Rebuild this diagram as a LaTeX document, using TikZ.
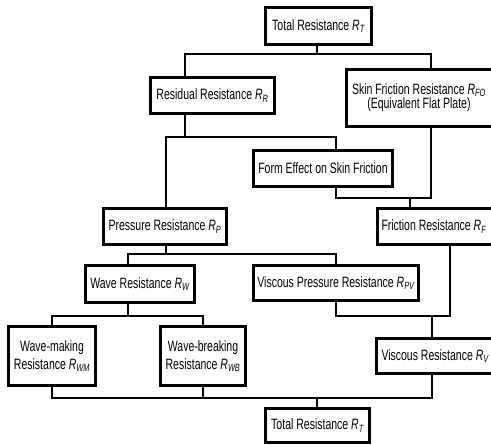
\documentclass[tikz,border=0pt]{standalone}
\usepackage{fontspec}
\setmainfont{Liberation Sans}[FakeStretch=0.7]
\newcommand{\Rsub}[1]{{\itshape R}\textsubscript{\itshape #1}}
\begin{document}
\begin{tikzpicture}[x=1pt,y=-1pt,
  box/.style={draw=black,line width=3pt,fill=white,rectangle,inner xsep=3pt,inner ysep=2pt,
    font=\fontsize{15}{18}\selectfont,align=center},
  edgebox/.style={box,anchor=west,align=flush left,inner xsep=#1},
  conn/.style={draw=black,line width=2pt,line cap=rect}]
\useasboundingbox (0,0) rectangle (491,445);
\fill[white] (0,0) rectangle (491,445);
% nodes
\node[box,minimum width=106pt,minimum height=37pt] (T) at (318.5,26) {Total Resistance \Rsub{T}};
\node[box,minimum width=124pt,minimum height=36pt] (Rres) at (212.5,95.5) {Residual Resistance \Rsub{R}};
\node[edgebox=6pt,text width=150pt,minimum height=57pt,font=\fontsize{15}{13}\selectfont] (Skin) at (344.5,98)
  {\begin{tabular}{@{}c@{}}Skin Friction Resistance \Rsub{FO}\\(Equivalent Flat Plate)\end{tabular}};
\node[box,minimum width=139pt,minimum height=36pt] (Form) at (323,168.5) {Form Effect on Skin Friction};
\node[box,minimum width=123pt,minimum height=36pt] (Pres) at (165,226.5) {Pressure Resistance \Rsub{P}};
\node[edgebox=4.5pt,text width=140pt,minimum height=36pt] (Fric) at (375.5,226.5) {Friction Resistance \Rsub{F}};
\node[box,minimum width=109pt,minimum height=37pt] (Wave) at (140,284) {Wave Resistance \Rsub{W}};
\node[box,minimum width=165pt,minimum height=35pt] (VP) at (336,283) {Viscous Pressure Resistance \Rsub{PV}};
\node[box,minimum width=87pt,minimum height=59pt] (WM) at (52,356) {Wave-making\\Resistance \Rsub{WM}};
\node[box,minimum width=85pt,minimum height=59pt] (WB) at (203,356) {Wave-breaking\\Resistance \Rsub{WB}};
\node[edgebox=5.5pt,text width=140pt,minimum height=35pt] (Visc) at (374.5,356) {Viscous Resistance \Rsub{V}};
\node[box,minimum width=104pt,minimum height=34pt] (TB) at (317.5,425.5) {Total Resistance \Rsub{T}};
% junction coordinates
\coordinate (a0) at (317,54);
\coordinate (aL) at (185,54);
\coordinate (aR) at (431,54);
\coordinate (bM) at (185,137);
\coordinate (bL) at (166,137);
\coordinate (bR) at (336,137);
\coordinate (cL) at (336,198);
\coordinate (cR) at (431,198);
\coordinate (cM) at (410,198);
\coordinate (dL) at (128,254);
\coordinate (dM) at (166,254);
\coordinate (dR) at (336,254);
\coordinate (eL) at (52,316);
\coordinate (eM) at (128,316);
\coordinate (eR) at (203,316);
\coordinate (fL) at (336,316);
\coordinate (fR) at (450,316);
\coordinate (fM) at (432,316);
\coordinate (gL) at (52,398);
\coordinate (gWB) at (203,398);
\coordinate (gR) at (432,398);
\coordinate (gM) at (317,398);
% connectors
\draw[conn] (T.south -| a0) -- (a0);
\draw[conn] (Rres.north -| aL) -- (aL) -- (aR) -- (Skin.north -| aR);
\draw[conn] (Rres.south -| bM) -- (bM);
\draw[conn] (Pres.north -| bL) -- (bL) -- (bR) -- (Form.north -| bR);
\draw[conn] (Form.south -| cL) -- (cL) -- (cR) -- (Skin.south -| cR);
\draw[conn] (cM) -- (Fric.north -| cM);
\draw[conn] (Pres.south -| dM) -- (dM);
\draw[conn] (Wave.north -| dL) -- (dL) -- (dR) -- (VP.north -| dR);
\draw[conn] (Wave.south -| eM) -- (eM);
\draw[conn] (WM.north -| eL) -- (eL) -- (eR) -- (WB.north -| eR);
\draw[conn] (VP.south -| fL) -- (fL) -- (fR) -- (Fric.south -| fR);
\draw[conn] (fM) -- (Visc.north -| fM);
\draw[conn] (WM.south -| gL) -- (gL) -- (gR) -- (Visc.south -| gR);
\draw[conn] (WB.south -| gWB) -- (gWB);
\draw[conn] (gM) -- (TB.north -| gM);
\end{tikzpicture}
\end{document}
